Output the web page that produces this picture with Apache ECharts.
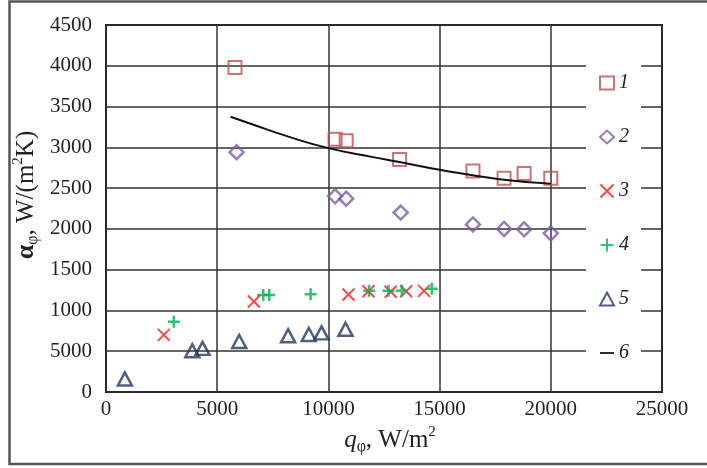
<!DOCTYPE html>
<html>
<head>
<meta charset="utf-8">
<script src="https://cdn.jsdelivr.net/npm/echarts@6/dist/echarts.min.js"></script>
<style>
  html, body { margin: 0; padding: 0; background: #fff; }
  #chart { width: 707px; height: 468px; }
</style>
</head>
<body>
<div id="chart"></div>
<script>
// series 1 - squares
const q1 = [5800, 10300, 10800, 13200, 16500, 17900, 18800, 20000];
const a1 = [3980, 3100, 3080, 2850, 2710, 2620, 2680, 2620];
// series 2 - diamonds
const q2 = [5870, 10300, 10800, 13250, 16500, 17900, 18800, 20000];
const a2 = [2940, 2400, 2370, 2200, 2055, 2000, 1995, 1945];
// series 3 - red crosses
const q3 = [2600, 6650, 10900, 11800, 12800, 13500, 14300];
const a3 = [700, 1110, 1195, 1235, 1230, 1235, 1240];
// series 4 - green pluses
const q4 = [3050, 7070, 7340, 9200, 11830, 12700, 13300, 14650];
const a4 = [860, 1190, 1190, 1200, 1240, 1240, 1240, 1265];
// series 5 - triangles
const q5 = [850, 3880, 4340, 5990, 8190, 9120, 9690, 10770];
const a5 = [160, 505, 535, 620, 690, 705, 725, 770];
// series 6 - fitted curve
const q6 = [5600, 6600, 8100, 10000, 12000, 13200, 15000, 17700, 20000];
const a6 = [3375, 3280, 3140, 2990, 2880, 2820, 2725, 2610, 2555];

const legendNames = ['1', '2', '3', '4', '5', '6'];
const yTickLabels = ['0', '5000', '1000', '1500', '2000', '2500', '3000', '3500', '4000', '4500'];

const serif = 'Liberation Serif';

function pairs(xs, ys) {
    let out = [];
    for (let i = 0; i < xs.length; i++) {
        out.push([xs[i], ys[i]]);
    }
    return out;
}

const crossPath = 'path://M0,0L10,10M10,0L0,10';
const plusPath = 'path://M5,0L5,10M0,5L10,5';
const dashIcon = 'path://M0,0L16,0L16,2L0,2Z';

let dom = document.getElementById('chart');
let myChart = echarts.init(dom, null, { renderer: 'canvas' });

let legendData = legendNames.map((n) => (n === '6' ? { name: n, icon: dashIcon } : { name: n }));

let option = {
    animation: false,
    backgroundColor: '#fff',
    grid: {
        left: 106, right: 45, top: 25, bottom: 76,
        show: true, borderColor: '#111', borderWidth: 2
    },
    xAxis: {
        type: 'value', min: 0, max: 25000, interval: 5000,
        axisLine: { show: false },
        axisTick: { show: false },
        splitLine: { show: true, lineStyle: { color: '#333', width: 1.5 } },
        axisLabel: {
            fontFamily: serif, fontSize: 21, color: '#222', margin: 7,
            formatter: (v) => String(v)
        }
    },
    yAxis: {
        type: 'value', min: 0, max: 4500, interval: 500,
        axisLine: { show: false },
        axisTick: { show: false },
        splitLine: { show: true, lineStyle: { color: '#333', width: 1.5 } },
        axisLabel: {
            fontFamily: serif, fontSize: 21, color: '#222', margin: 14,
            formatter: (v) => yTickLabels[Math.round(v / 500)]
        }
    },
    legend: {
        orient: 'vertical',
        left: 586, top: 56,
        padding: [17, 12, 10, 12],
        itemGap: 34,
        itemWidth: 14, itemHeight: 13,
        backgroundColor: '#fff',
        data: legendData,
        textStyle: { fontFamily: serif, fontStyle: 'italic', fontSize: 20, color: '#222' }
    },
    series: [
        {
            name: '1', type: 'scatter', data: pairs(q1, a1),
            symbol: 'rect', symbolSize: 13,
            itemStyle: { color: 'rgba(0,0,0,0)', borderColor: '#c0504d', borderWidth: 2 }
        },
        {
            name: '2', type: 'scatter', data: pairs(q2, a2),
            symbol: 'diamond', symbolSize: 14,
            itemStyle: { color: 'rgba(0,0,0,0)', borderColor: '#7b5ea7', borderWidth: 2.5 }
        },
        {
            name: '3', type: 'scatter', data: pairs(q3, a3),
            symbol: crossPath, symbolSize: 12,
            itemStyle: { color: 'none', borderColor: '#ff1a1a', borderWidth: 2 }
        },
        {
            name: '4', type: 'scatter', data: pairs(q4, a4),
            symbol: plusPath, symbolSize: 12,
            itemStyle: { color: 'none', borderColor: '#00b050', borderWidth: 2.5 }
        },
        {
            name: '5', type: 'scatter', data: pairs(q5, a5),
            symbol: 'triangle', symbolSize: [14, 13],
            itemStyle: { color: 'rgba(0,0,0,0)', borderColor: '#1f3864', borderWidth: 2.5 }
        },
        {
            name: '6', type: 'line', data: pairs(q6, a6),
            smooth: true, symbol: 'none',
            lineStyle: { color: '#111', width: 2 },
            itemStyle: { color: '#111' }
        }
    ],
    graphic: [
        {
            type: 'polyline',
            shape: { points: [[707, 1.5], [9.5, 1.5], [9.5, 464], [707, 464]] },
            style: { stroke: '#555', lineWidth: 2.5, fill: null },
            silent: true
        },
        {
            type: 'text',
            x: 390, y: 440,
            style: {
                text: '{q|q}{s|φ}{n|, W/m}{p|2}',
                align: 'center', verticalAlign: 'middle',
                fill: '#222',
                rich: {
                    q: { fontFamily: serif, fontStyle: 'italic', fontSize: 25, lineHeight: 30 },
                    s: { fontFamily: serif, fontSize: 16, lineHeight: 12, verticalAlign: 'bottom' },
                    n: { fontFamily: serif, fontSize: 25, lineHeight: 30 },
                    p: { fontFamily: serif, fontSize: 15, lineHeight: 20, verticalAlign: 'top' }
                }
            }
        },
        {
            type: 'text',
            x: 26, y: 195,
            rotation: Math.PI / 2,
            style: {
                text: '{a|α}{s|φ}{n|, W/(m}{p|2}{n|K)}',
                align: 'center', verticalAlign: 'middle',
                fill: '#222',
                rich: {
                    a: { fontFamily: serif, fontWeight: 'bold', fontSize: 26, lineHeight: 30 },
                    s: { fontFamily: serif, fontSize: 16, lineHeight: 12, verticalAlign: 'bottom' },
                    n: { fontFamily: serif, fontSize: 25, lineHeight: 30 },
                    p: { fontFamily: serif, fontSize: 15, lineHeight: 20, verticalAlign: 'top' }
                }
            }
        }
    ]
};

if (option && typeof option === 'object') {
    myChart.setOption(option);
}
window.addEventListener('resize', myChart.resize);
</script>
</body>
</html>
